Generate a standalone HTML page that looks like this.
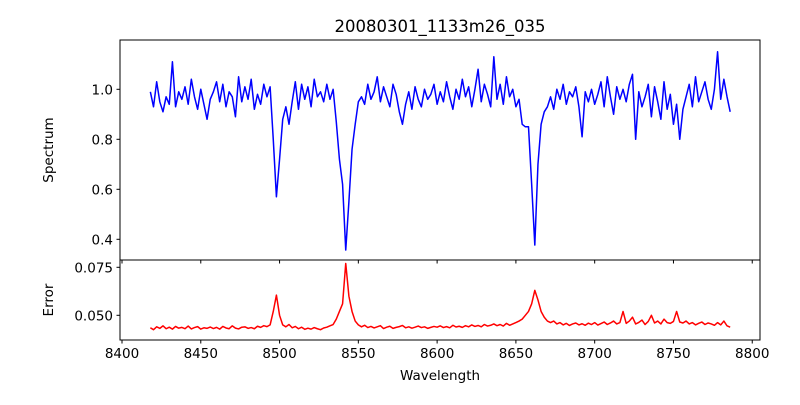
<!DOCTYPE html>
<html><head><meta charset="utf-8"><style>
body{margin:0;background:#fff;width:800px;height:400px;overflow:hidden}
svg text{font-family:"DejaVu Sans","Liberation Sans",sans-serif;fill:#000}
</style></head><body>
<svg id="chart" width="800" height="400" viewBox="0 0 800 400">
<rect width="800" height="400" fill="#fff"/>
<text x="440" y="32" font-size="16.5" text-anchor="middle">20080301_1133m26_035</text>
<g id="gtop"></g><g id="gbot"></g>
<rect x="120" y="40" width="640" height="220" fill="none" stroke="#000" stroke-width="1"/>
<rect x="120" y="260" width="640" height="80" fill="none" stroke="#000" stroke-width="1"/>
<text x="53" y="150" font-size="13.5" text-anchor="middle" transform="rotate(-90 53 150)">Spectrum</text>
<text x="53" y="300" font-size="13.5" text-anchor="middle" transform="rotate(-90 53 300)">Error</text>
<text x="440" y="380" font-size="13.5" text-anchor="middle">Wavelength</text>
</svg>
<script>
const wlStart = 8418, wlStep = 2;
const flux = [
0.99,0.93,1.03,0.95,0.91,0.97,0.94,1.11,0.93,0.99,
0.96,1.01,0.94,1.04,0.97,0.92,1.0,0.94,0.88,0.96,
0.99,1.03,0.95,1.02,0.93,0.99,0.97,0.89,1.05,0.95,
1.01,0.96,1.04,0.92,0.98,0.94,1.02,0.97,1.01,0.80,
0.57,0.72,0.88,0.93,0.86,0.95,1.03,0.92,1.02,0.96,
1.01,0.93,1.04,0.97,0.99,0.95,1.02,0.96,1.0,0.87,
0.72,0.62,0.357,0.55,0.76,0.86,0.95,0.97,0.94,1.02,
0.96,0.99,1.05,0.95,1.01,0.97,0.93,1.02,0.98,0.91,
0.86,0.94,0.99,0.92,1.01,0.96,0.93,1.0,0.96,0.98,
1.02,0.94,0.99,0.95,1.03,0.97,0.92,1.0,0.96,1.04,
0.97,1.01,0.93,1.0,1.08,0.95,1.02,0.98,0.93,1.13,
0.96,1.02,0.94,1.05,0.97,1.0,0.93,0.96,0.86,0.85,
0.85,0.62,0.377,0.70,0.86,0.91,0.93,0.97,0.92,1.0,
0.96,1.02,0.94,0.99,0.97,1.01,0.93,0.81,0.99,0.95,
1.0,0.94,0.98,1.03,0.93,1.05,0.97,0.90,1.01,0.96,
1.0,0.95,1.02,1.06,0.80,0.99,0.93,0.97,1.02,0.89,
1.01,0.95,0.88,1.03,0.92,0.98,0.86,0.94,0.80,0.92,
0.97,1.02,0.93,1.05,0.95,0.99,1.03,0.96,0.92,1.0,
1.15,0.96,1.04,0.97,0.91];
const err = [
0.0435,0.0425,0.0440,0.0432,0.0445,0.0430,0.0438,0.0428,0.0442,0.0433,
0.0437,0.0430,0.0444,0.0429,0.0436,0.0441,0.0428,0.0435,0.0432,0.0439,
0.0431,0.0437,0.0428,0.0442,0.0434,0.0430,0.0445,0.0433,0.0429,0.0438,
0.0440,0.0432,0.0436,0.0430,0.0443,0.0437,0.0446,0.0441,0.0450,0.0520,
0.0605,0.0500,0.0450,0.0440,0.0452,0.0435,0.0442,0.0430,0.0438,0.0427,
0.0433,0.0428,0.0436,0.0430,0.0425,0.0434,0.0438,0.0445,0.0452,0.0480,
0.0520,0.0560,0.0770,0.0600,0.0520,0.0470,0.0450,0.0440,0.0448,0.0436,
0.0442,0.0434,0.0440,0.0446,0.0431,0.0438,0.0443,0.0432,0.0437,0.0441,
0.0447,0.0435,0.0440,0.0433,0.0438,0.0444,0.0436,0.0440,0.0432,0.0437,
0.0442,0.0438,0.0445,0.0436,0.0441,0.0435,0.0448,0.0439,0.0443,0.0437,
0.0446,0.0440,0.0450,0.0442,0.0447,0.0440,0.0452,0.0444,0.0448,0.0455,
0.0446,0.0452,0.0444,0.0458,0.0448,0.0455,0.0462,0.0470,0.0480,0.0500,
0.0520,0.0560,0.0630,0.0580,0.0520,0.0490,0.0470,0.0462,0.0470,0.0455,
0.0462,0.0450,0.0458,0.0447,0.0455,0.0460,0.0450,0.0456,0.0448,0.0459,
0.0452,0.0462,0.0449,0.0457,0.0465,0.0452,0.0460,0.0470,0.0455,0.0462,
0.0520,0.0458,0.0470,0.0490,0.0455,0.0463,0.0475,0.0452,0.0468,0.0500,
0.0460,0.0470,0.0455,0.0480,0.0462,0.0458,0.0468,0.0520,0.0465,0.0460,
0.0470,0.0455,0.0462,0.0450,0.0458,0.0465,0.0452,0.0460,0.0455,0.0448,
0.0462,0.0450,0.0470,0.0445,0.0438];
const xTicks = [8400,8450,8500,8550,8600,8650,8700,8750,8800];
const yTicksTop = [0.4,0.6,0.8,1.0];
const yTickLabelsTop = ["0.4","0.6","0.8","1.0"];
const yTicksBot = [0.050,0.075];
const yTickLabelsBot = ["0.050","0.075"];

const NS="http://www.w3.org/2000/svg";
const X = w => 122 + (w - 8400) * 1.5756;
const YT = v => 89.3 + (1 - v) * 250;
const YB = e => 260 + (0.0788 - e) * 1920;
function mk(tag, attrs, parent){const e=document.createElementNS(NS,tag);for(const k in attrs)e.setAttribute(k,attrs[k]);parent.appendChild(e);return e;}
const svg=document.getElementById('chart');
const gTop=document.getElementById('gtop'), gBot=document.getElementById('gbot');

let d1=flux.map((v,i)=>(i?'L':'M')+X(wlStart+i*wlStep).toFixed(2)+' '+YT(v).toFixed(2)).join(' ');
const p1=mk('path',{d:d1,fill:'none',stroke:'#0000ff','stroke-width':1.5,'stroke-linejoin':'round'},gTop);


let d2=err.map((v,i)=>(i?'L':'M')+X(wlStart+i*wlStep).toFixed(2)+' '+YB(v).toFixed(2)).join(' ');
const p2=mk('path',{d:d2,fill:'none',stroke:'#ff0000','stroke-width':1.5,'stroke-linejoin':'round'},gBot);



xTicks.forEach(t=>{
  const x=X(t);
  const l=mk('line',{x1:x,x2:x,y1:340,y2:343.5,stroke:'#000'},svg);
  
  
  const l2=mk('line',{x1:x,x2:x,y1:260,y2:263.5,stroke:'#000'},svg);
  
  
  const tx=mk('text',{x:x,y:358,'font-size':13.5,'text-anchor':'middle'},svg);
  tx.textContent=t;
  
  
});
yTicksTop.forEach((t,i)=>{
  const y=YT(t);
  const l=mk('line',{x1:116.5,x2:120,y1:y,y2:y,stroke:'#000'},svg);
  
  
  const tx=mk('text',{x:113,y:y+5,'font-size':13.5,'text-anchor':'end'},svg);
  tx.textContent=yTickLabelsTop[i];
  
  
});
yTicksBot.forEach((t,i)=>{
  const y=YB(t);
  const l=mk('line',{x1:116.5,x2:120,y1:y,y2:y,stroke:'#000'},svg);
  
  
  const tx=mk('text',{x:113,y:y+5,'font-size':13.5,'text-anchor':'end'},svg);
  tx.textContent=yTickLabelsBot[i];
  
  
});
</script>
</body></html>
